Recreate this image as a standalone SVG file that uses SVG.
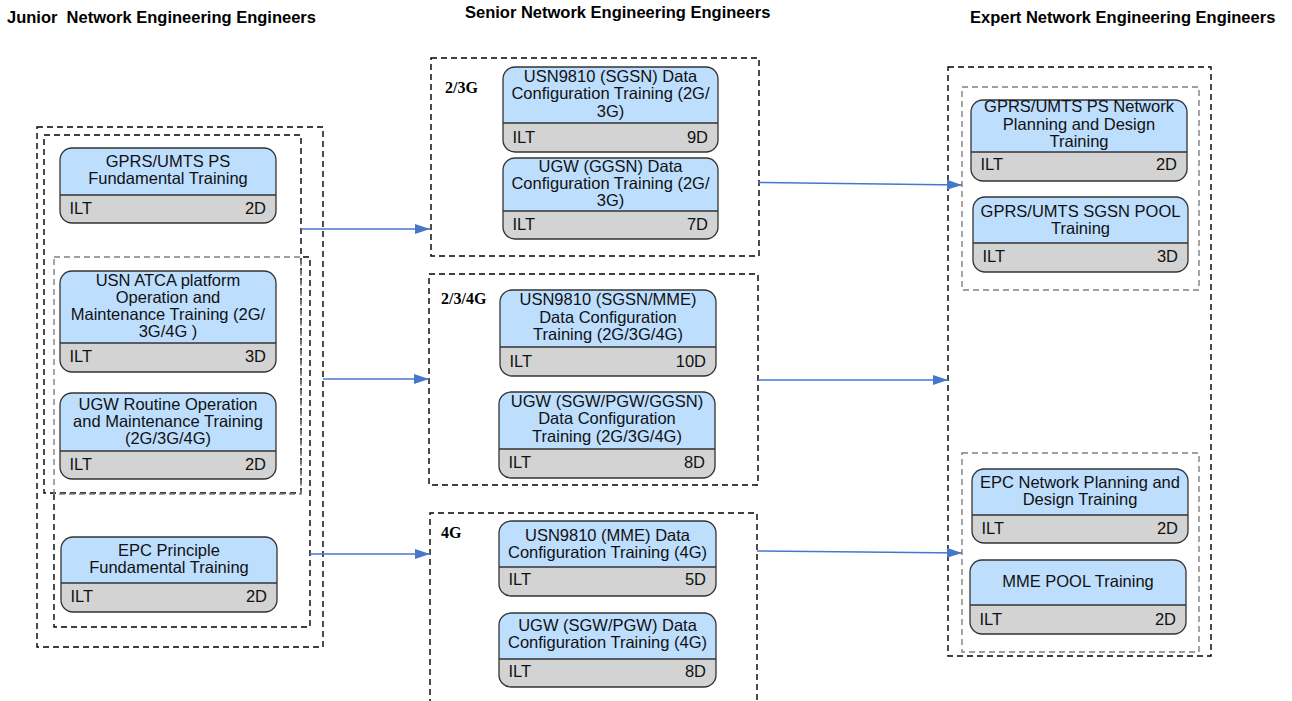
<svg xmlns="http://www.w3.org/2000/svg" width="1292" height="701" viewBox="0 0 1292 701">
<defs>
<style>
.hdr{font-family:"Liberation Sans",Arial,sans-serif;font-weight:bold;font-size:16.5px;fill:#000;white-space:pre}
.t{font-family:"Liberation Sans",Arial,sans-serif;font-size:16.5px;fill:#111;text-anchor:middle}
.fl{font-family:"Liberation Sans",Arial,sans-serif;font-size:16.5px;fill:#111}
.fr{font-family:"Liberation Sans",Arial,sans-serif;font-size:16.5px;fill:#111;text-anchor:end}
.lbl{font-family:"Liberation Serif","Times New Roman",serif;font-weight:bold;font-size:16px;fill:#000}
.box{fill:none;stroke:#000;stroke-width:1.4;stroke-dasharray:6 4}
.gbox{fill:none;stroke:#808080;stroke-width:1.4;stroke-dasharray:6 4}
.foot{fill:#d3d3d3}
.head{fill:#bedefe}
.div{stroke:#333;stroke-width:1.3}
.out{fill:none;stroke:#333;stroke-width:1.3}
.conn{stroke:#4677c8;stroke-width:1.6;fill:none}
</style>
<marker id="ah" markerUnits="userSpaceOnUse" markerWidth="15" markerHeight="10" refX="15" refY="5" orient="auto">
<path d="M0,0 L15,5 L0,10 Z" fill="#4677c8"/>
</marker>
</defs>
<rect width="1292" height="701" fill="#fff"/>

<g id="headers">
<text class="hdr" x="7" y="23" xml:space="preserve">Junior  Network Engineering Engineers</text>
<text class="hdr" x="465" y="18">Senior Network Engineering Engineers</text>
<text class="hdr" x="970" y="23">Expert Network Engineering Engineers</text>
</g>

<g id="containers">
<rect class="box" x="37" y="127" width="286" height="520"/>
<rect class="box" x="44" y="135" width="257" height="358"/>
<path class="box" d="M54,494 V627 H310 V257 H301"/>
<rect class="gbox" x="54" y="257" width="247" height="237"/>
<rect class="box" x="431" y="58" width="328" height="198"/>
<text class="lbl" x="445" y="93">2/3G</text>
<rect class="box" x="429" y="274" width="329" height="211"/>
<text class="lbl" x="441" y="304">2/3/4G</text>
<path class="box" d="M430,705 V513 H757 V705"/>
<text class="lbl" x="441" y="538">4G</text>
<rect class="box" x="948" y="67" width="263" height="589"/>
<rect class="gbox" x="962" y="87" width="237" height="203"/>
<rect class="gbox" x="962" y="453" width="237" height="199"/>
</g>

<g id="node-L1">
<rect class="foot" x="60" y="148" width="216" height="75" rx="12"/>
<path class="head" d="M60,195 V160 A12,12 0 0 1 72,148 H264 A12,12 0 0 1 276,160 V195 Z"/>
<line class="div" x1="60" y1="195" x2="276" y2="195"/>
<rect class="out" x="60" y="148" width="216" height="75" rx="12"/>
<text class="t" x="168" y="166.5">GPRS/UMTS PS</text>
<text class="t" x="168" y="184">Fundamental Training</text>
<text class="fl" x="69.5" y="214">ILT</text>
<text class="fr" x="266" y="214">2D</text>
</g>

<g id="node-L2">
<rect class="foot" x="60" y="271" width="216" height="101" rx="12"/>
<path class="head" d="M60,343 V283 A12,12 0 0 1 72,271 H264 A12,12 0 0 1 276,283 V343 Z"/>
<line class="div" x1="60" y1="343" x2="276" y2="343"/>
<rect class="out" x="60" y="271" width="216" height="101" rx="12"/>
<text class="t" x="168" y="286">USN ATCA platform</text>
<text class="t" x="168" y="303">Operation and</text>
<text class="t" x="168" y="320">Maintenance Training (2G/</text>
<text class="t" x="168" y="337">3G/4G )</text>
<text class="fl" x="69.5" y="362">ILT</text>
<text class="fr" x="266" y="362">3D</text>
</g>

<g id="node-L3">
<rect class="foot" x="60" y="393" width="216" height="86" rx="12"/>
<path class="head" d="M60,451 V405 A12,12 0 0 1 72,393 H264 A12,12 0 0 1 276,405 V451 Z"/>
<line class="div" x1="60" y1="451" x2="276" y2="451"/>
<rect class="out" x="60" y="393" width="216" height="86" rx="12"/>
<text class="t" x="168" y="409.5">UGW Routine Operation</text>
<text class="t" x="168" y="426.5">and Maintenance Training</text>
<text class="t" x="168" y="443.5">(2G/3G/4G)</text>
<text class="fl" x="69.5" y="469.5">ILT</text>
<text class="fr" x="266" y="469.5">2D</text>
</g>

<g id="node-L4">
<rect class="foot" x="61" y="537" width="216" height="75" rx="12"/>
<path class="head" d="M61,583 V549 A12,12 0 0 1 73,537 H265 A12,12 0 0 1 277,549 V583 Z"/>
<line class="div" x1="61" y1="583" x2="277" y2="583"/>
<rect class="out" x="61" y="537" width="216" height="75" rx="12"/>
<text class="t" x="169" y="556">EPC Principle</text>
<text class="t" x="169" y="573">Fundamental Training</text>
<text class="fl" x="70.5" y="602">ILT</text>
<text class="fr" x="267" y="602">2D</text>
</g>

<g id="node-A1">
<rect class="foot" x="503" y="67" width="215" height="85" rx="12"/>
<path class="head" d="M503,123 V79 A12,12 0 0 1 515,67 H706 A12,12 0 0 1 718,79 V123 Z"/>
<line class="div" x1="503" y1="123" x2="718" y2="123"/>
<rect class="out" x="503" y="67" width="215" height="85" rx="12"/>
<text class="t" x="610.5" y="81.5">USN9810 (SGSN) Data</text>
<text class="t" x="610.5" y="99">Configuration Training (2G/</text>
<text class="t" x="610.5" y="116.5">3G)</text>
<text class="fl" x="512.5" y="143">ILT</text>
<text class="fr" x="708" y="143">9D</text>
</g>

<g id="node-A2">
<rect class="foot" x="503" y="158" width="215" height="81" rx="12"/>
<path class="head" d="M503,211 V170 A12,12 0 0 1 515,158 H706 A12,12 0 0 1 718,170 V211 Z"/>
<line class="div" x1="503" y1="211" x2="718" y2="211"/>
<rect class="out" x="503" y="158" width="215" height="81" rx="12"/>
<text class="t" x="610.5" y="171.5">UGW (GGSN) Data</text>
<text class="t" x="610.5" y="189">Configuration Training (2G/</text>
<text class="t" x="610.5" y="206">3G)</text>
<text class="fl" x="512.5" y="230">ILT</text>
<text class="fr" x="708" y="230">7D</text>
</g>

<g id="node-B1">
<rect class="foot" x="500" y="290" width="216" height="86" rx="12"/>
<path class="head" d="M500,347 V302 A12,12 0 0 1 512,290 H704 A12,12 0 0 1 716,302 V347 Z"/>
<line class="div" x1="500" y1="347" x2="716" y2="347"/>
<rect class="out" x="500" y="290" width="216" height="86" rx="12"/>
<text class="t" x="608" y="305">USN9810 (SGSN/MME)</text>
<text class="t" x="608" y="323">Data Configuration</text>
<text class="t" x="608" y="340">Training (2G/3G/4G)</text>
<text class="fl" x="509.5" y="367">ILT</text>
<text class="fr" x="706" y="367">10D</text>
</g>

<g id="node-B2">
<rect class="foot" x="499" y="392" width="216" height="86" rx="12"/>
<path class="head" d="M499,449 V404 A12,12 0 0 1 511,392 H703 A12,12 0 0 1 715,404 V449 Z"/>
<line class="div" x1="499" y1="449" x2="715" y2="449"/>
<rect class="out" x="499" y="392" width="216" height="86" rx="12"/>
<text class="t" x="607" y="406.5">UGW (SGW/PGW/GGSN)</text>
<text class="t" x="607" y="424">Data Configuration</text>
<text class="t" x="607" y="441.5">Training (2G/3G/4G)</text>
<text class="fl" x="508.5" y="468">ILT</text>
<text class="fr" x="705" y="468">8D</text>
</g>

<g id="node-C1">
<rect class="foot" x="499" y="521" width="217" height="75" rx="12"/>
<path class="head" d="M499,567 V533 A12,12 0 0 1 511,521 H704 A12,12 0 0 1 716,533 V567 Z"/>
<line class="div" x1="499" y1="567" x2="716" y2="567"/>
<rect class="out" x="499" y="521" width="217" height="75" rx="12"/>
<text class="t" x="607.5" y="540.5">USN9810 (MME) Data</text>
<text class="t" x="607.5" y="558">Configuration Training (4G)</text>
<text class="fl" x="508.5" y="585">ILT</text>
<text class="fr" x="706" y="585">5D</text>
</g>

<g id="node-C2">
<rect class="foot" x="499" y="613" width="217" height="74" rx="12"/>
<path class="head" d="M499,659 V625 A12,12 0 0 1 511,613 H704 A12,12 0 0 1 716,625 V659 Z"/>
<line class="div" x1="499" y1="659" x2="716" y2="659"/>
<rect class="out" x="499" y="613" width="217" height="74" rx="12"/>
<text class="t" x="607.5" y="630.5">UGW (SGW/PGW) Data</text>
<text class="t" x="607.5" y="648">Configuration Training (4G)</text>
<text class="fl" x="508.5" y="677">ILT</text>
<text class="fr" x="706" y="677">8D</text>
</g>

<g id="node-R1">
<rect class="foot" x="971" y="100" width="216" height="81" rx="12"/>
<path class="head" d="M971,152 V112 A12,12 0 0 1 983,100 H1175 A12,12 0 0 1 1187,112 V152 Z"/>
<line class="div" x1="971" y1="152" x2="1187" y2="152"/>
<rect class="out" x="971" y="100" width="216" height="81" rx="12"/>
<text class="t" x="1079" y="111.5">GPRS/UMTS PS Network</text>
<text class="t" x="1079" y="129.5">Planning and Design</text>
<text class="t" x="1079" y="147">Training</text>
<text class="fl" x="980.5" y="170">ILT</text>
<text class="fr" x="1177" y="170">2D</text>
</g>

<g id="node-R2">
<rect class="foot" x="973" y="197" width="215" height="75" rx="12"/>
<path class="head" d="M973,243 V209 A12,12 0 0 1 985,197 H1176 A12,12 0 0 1 1188,209 V243 Z"/>
<line class="div" x1="973" y1="243" x2="1188" y2="243"/>
<rect class="out" x="973" y="197" width="215" height="75" rx="12"/>
<text class="t" x="1080.5" y="216.5">GPRS/UMTS SGSN POOL</text>
<text class="t" x="1080.5" y="233.5">Training</text>
<text class="fl" x="982.5" y="262">ILT</text>
<text class="fr" x="1178" y="262">3D</text>
</g>

<g id="node-R3">
<rect class="foot" x="972" y="469" width="216" height="74" rx="12"/>
<path class="head" d="M972,515 V481 A12,12 0 0 1 984,469 H1176 A12,12 0 0 1 1188,481 V515 Z"/>
<line class="div" x1="972" y1="515" x2="1188" y2="515"/>
<rect class="out" x="972" y="469" width="216" height="74" rx="12"/>
<text class="t" x="1080" y="488">EPC Network Planning and</text>
<text class="t" x="1080" y="505">Design Training</text>
<text class="fl" x="981.5" y="533.5">ILT</text>
<text class="fr" x="1178" y="533.5">2D</text>
</g>

<g id="node-R4">
<rect class="foot" x="970" y="560" width="216" height="74" rx="12"/>
<path class="head" d="M970,605 V572 A12,12 0 0 1 982,560 H1174 A12,12 0 0 1 1186,572 V605 Z"/>
<line class="div" x1="970" y1="605" x2="1186" y2="605"/>
<rect class="out" x="970" y="560" width="216" height="74" rx="12"/>
<text class="t" x="1078" y="586.5">MME POOL Training</text>
<text class="fl" x="979.5" y="625">ILT</text>
<text class="fr" x="1176" y="625">2D</text>
</g>

<g id="connectors">
<path class="conn" d="M301,229 H430" marker-end="url(#ah)"/>
<path class="conn" d="M323,379 H429" marker-end="url(#ah)"/>
<path class="conn" d="M310,554 H430" marker-end="url(#ah)"/>
<path class="conn" d="M758,182.5 L962,185" marker-end="url(#ah)"/>
<path class="conn" d="M758,380 H948" marker-end="url(#ah)"/>
<path class="conn" d="M757,551 L962,553" marker-end="url(#ah)"/>
</g>
</svg>
